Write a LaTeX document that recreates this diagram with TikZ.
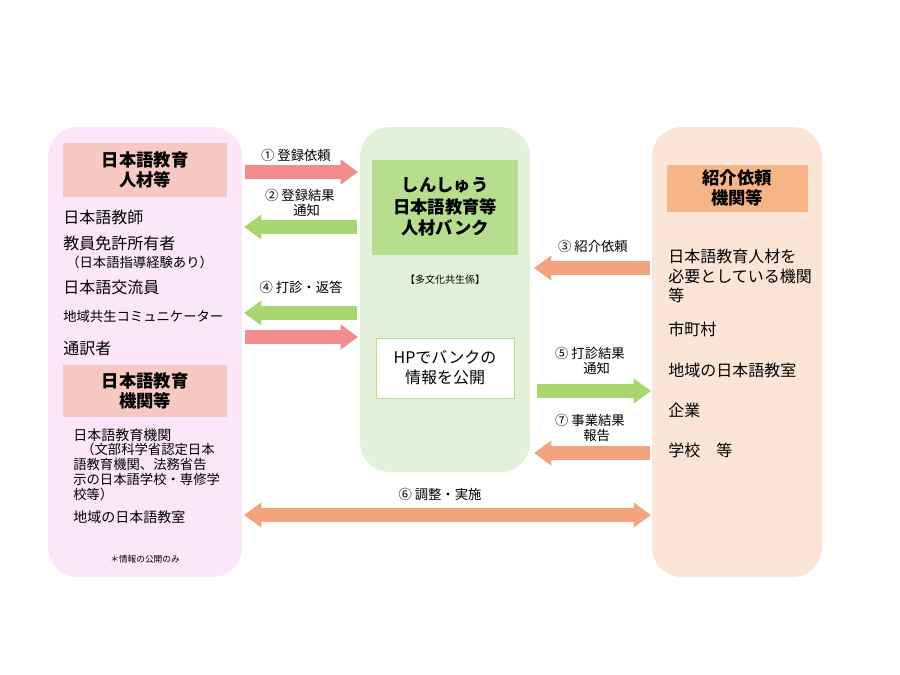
\documentclass[tikz,border=0pt]{standalone}
\usepackage{fontspec}
\setmainfont{Noto Sans CJK JP}
\usetikzlibrary{arrows.meta}
\definecolor{lpink}{HTML}{FCE6FA}
\definecolor{hpink}{HTML}{F8C9C2}
\definecolor{lgreen}{HTML}{E3F0DA}
\definecolor{hgreen}{HTML}{B7DD8F}
\definecolor{lorange}{HTML}{FBE5D6}
\definecolor{horange}{HTML}{F5B587}
\definecolor{apink}{HTML}{F38C8E}
\definecolor{agreen}{HTML}{A8D770}
\definecolor{aorange}{HTML}{F3A47F}
\tikzset{
 panel/.style={rounded corners=22pt},
 head/.style={font=\fontsize{13}{15}\selectfont\bfseries, align=center, inner sep=0pt},
 item/.style={font=\fontsize{12}{14}\selectfont, anchor=west, inner sep=0pt},
 sitem/.style={font=\fontsize{10}{11}\selectfont, anchor=west, inner sep=0pt},
 lab/.style={font=\fontsize{10}{11}\selectfont, align=center, inner sep=0pt},
 barrow/.style={line width=10.5pt, -{Triangle[length=13pt,width=18pt]}},
 darrow/.style={line width=10.5pt, {Triangle[length=13pt,width=18pt]}-{Triangle[length=13pt,width=18pt]}},
}
\begin{document}
\begin{tikzpicture}[x=0.75pt,y=-0.75pt]
\useasboundingbox (0,0) rectangle (900,675);
% panels
\path[panel,fill=lpink] (48,127) rectangle (242,577);
\path[panel,fill=lgreen] (360,127) rectangle (530,472);
\path[panel,fill=lorange] (652,127) rectangle (822,577);
% left
\fill[hpink] (63,143) rectangle (227,197);
\node[head] (h1) at (145,170) {日本語教育\\人材等};
\node[item] (l1) at (63,217) {日本語教師};
\node[item] (l2) at (63,243) {教員免許所有者};
\node[sitem] (l3) at (66,262) {（日本語指導経験あり）};
\node[item] (l4) at (63,287) {日本語交流員};
\node[sitem] (l5) at (63,316) {地域共生コミュニケーター};
\node[item] (l6) at (63,348) {通訳者};
\fill[hpink] (63,365) rectangle (227,417);
\node[head] (h2) at (145,391) {日本語教育\\機関等};
\node[sitem,font=\fontsize{10.5}{11}\selectfont] (l7) at (73,435) {日本語教育機関};
\node[sitem,align=left,anchor=north west,font=\fontsize{10}{11.2}\selectfont] (l8) at (73,443) {\hspace{0.6em}（文部科学省認定日本\\語教育機関、法務省告\\示の日本語学校・専修学\\校等）};
\node[sitem,font=\fontsize{10.5}{11}\selectfont] (l9) at (73,517) {地域の日本語教室};
\node[lab,font=\fontsize{6.5}{7}\selectfont] (l10) at (145,559) {＊情報の公開のみ};
% middle
\fill[hgreen] (372,160) rectangle (518,255);
\node[head,font=\fontsize{13}{16}\selectfont\bfseries] (h3) at (445,207) {しんしゅう\\日本語教育等\\人材バンク};
\node[lab,font=\fontsize{7.5}{8}\selectfont] (m1) at (445,280) {【多文化共生係】};
\node[draw=hgreen,fill=white,minimum width=103.5pt,minimum height=45pt,font=\fontsize{12}{15}\selectfont,align=center,inner sep=0pt] (hp) at (445,368) {HPでバンクの\\情報を公開};
% right
\fill[horange] (667,165) rectangle (808,212);
\node[head] (h4) at (737,188) {紹介依頼\\機関等};
\node[item,anchor=north west,align=left,font=\fontsize{12}{14.5}\selectfont] (r1) at (668,249) {日本語教育人材を\\必要としている機関\\等};
\node[item] (r2) at (668,329) {市町村};
\node[item] (r3) at (668,370) {地域の日本語教室};
\node[item] (r4) at (668,410) {企業};
\node[item] (r5) at (668,450) {学校\quad 等};
% arrow endpoints
\coordinate (a1s) at (245,172); \coordinate (a1e) at (358,172);
\coordinate (a2s) at (357,227); \coordinate (a2e) at (244,227);
\coordinate (a4s) at (357,313); \coordinate (a4e) at (244,313);
\coordinate (a4bs) at (245,337); \coordinate (a4be) at (358,337);
\coordinate (a3s) at (650,268); \coordinate (a3e) at (534,268);
\coordinate (a5s) at (537,391); \coordinate (a5e) at (651,391);
\coordinate (a7s) at (650,453); \coordinate (a7e) at (534,453);
\coordinate (a6s) at (244,515); \coordinate (a6e) at (651,515);
\draw[barrow,apink] (a1s) -- (a1e);
\draw[barrow,agreen] (a2s) -- (a2e);
\draw[barrow,agreen] (a4s) -- (a4e);
\draw[barrow,apink] (a4bs) -- (a4be);
\draw[barrow,aorange] (a3s) -- (a3e);
\draw[barrow,agreen] (a5s) -- (a5e);
\draw[barrow,aorange] (a7s) -- (a7e);
\draw[darrow,aorange] (a6s) -- (a6e);
% labels
\node[lab] (t1) at (296,155) {① 登録依頼};
\node[lab] (t2) at (300,203) {② 登録結果\\\hspace{1em}通知};
\node[lab] (t4) at (301,287) {④ 打診・返答};
\node[lab] (t3) at (593,246) {③ 紹介依頼};
\node[lab] (t5) at (590,361) {⑤ 打診結果\\\hspace{1em}通知};
\node[lab] (t7) at (590,428) {⑦ 事業結果\\\hspace{1em}報告};
\node[lab] (t6) at (440,494) {⑥ 調整・実施};
\end{tikzpicture}
\end{document}
